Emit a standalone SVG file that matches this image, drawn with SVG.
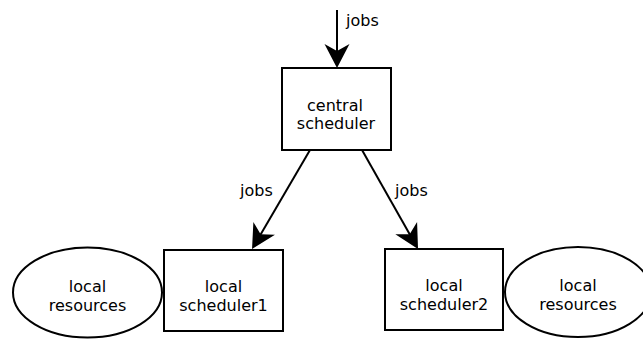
<svg xmlns="http://www.w3.org/2000/svg" width="643" height="340" viewBox="0 0 643 340">
  <style>
    .box { fill: #fff; stroke: #000; stroke-width: 2; }
    .edge { fill: none; stroke: #000; stroke-width: 2; }
    text { font-family: "DejaVu Sans", sans-serif; font-size: 16px; fill: #000; }
    .c { text-anchor: middle; }
  </style>
  <defs>
    <!-- notched filled arrowhead, tip 10px past the end of the line -->
    <marker id="arrow" markerUnits="userSpaceOnUse" markerWidth="30" markerHeight="28" refX="14" refY="12.5" orient="auto" overflow="visible">
      <path d="M0,0 L24,12.5 L0,25 L7,12.5 Z" fill="#000"/>
    </marker>
  </defs>

  <rect width="643" height="340" fill="#fff"/>

  <!-- connectors -->
  <g id="connectors">
    <line class="edge" x1="337" y1="10" x2="337" y2="58" marker-end="url(#arrow)"/>
    <text x="346" y="26">jobs</text>
    <line class="edge" x1="310" y1="150" x2="257.1" y2="240.4" marker-end="url(#arrow)"/>
    <text x="240" y="196">jobs</text>
    <line class="edge" x1="362" y1="150" x2="413.1" y2="240.3" marker-end="url(#arrow)"/>
    <text x="395" y="196">jobs</text>
  </g>

  <!-- nodes -->
  <g id="central-scheduler">
    <rect class="box" x="282" y="68" width="109" height="82"/>
    <text class="c" x="335" y="111">central</text>
    <text class="c" x="336" y="129">scheduler</text>
  </g>

  <g id="local-scheduler1">
    <rect class="box" x="164" y="250" width="119" height="81"/>
    <text class="c" x="223.5" y="291.5">local</text>
    <text class="c" x="223.5" y="310.5">scheduler1</text>
  </g>

  <g id="local-scheduler2">
    <rect class="box" x="385" y="249" width="118" height="81"/>
    <text class="c" x="444" y="291">local</text>
    <text class="c" x="444" y="310">scheduler2</text>
  </g>

  <g id="local-resources1">
    <ellipse class="box" cx="87.5" cy="292.5" rx="74.5" ry="45"/>
    <text class="c" x="87.5" y="291.5">local</text>
    <text class="c" x="87.5" y="310.5">resources</text>
  </g>

  <g id="local-resources2">
    <ellipse class="box" cx="578" cy="292" rx="73" ry="45"/>
    <text class="c" x="578" y="291">local</text>
    <text class="c" x="578" y="310">resources</text>
  </g>
</svg>
